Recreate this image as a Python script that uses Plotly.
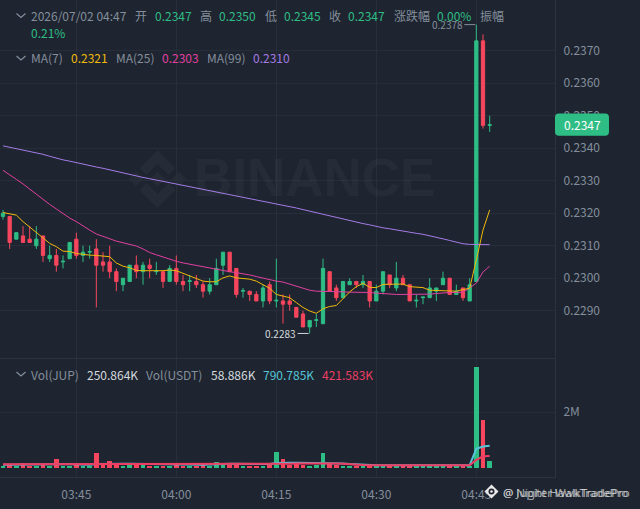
import pandas as pd
import plotly.graph_objects as go

# ---------- data (prices in 1e-4 units, moving averages in 1e-5 units) ----------
start_time = "2026-07-02 03:34"
direction = "grgrrgrgrggrggrrrrgg" "rgrgrgrrgrrgggrrgrrg" "rgrrrrgggrrggrgrggrg" "rrgggggrgrggrg"
body_top = [2320,2319,2314,2313,2312,2312,2313,2307,2307,2305.2,2311,2312,2308,2308.2,2309,2305,2305,2302,2300,2304,
            2304,2304,2304,2302.2,2302,2303,2303,2299,2299.2,2299,2298,2298,2303,2308,2308,2303,2296.2,2296,2295,2297,
            2298,2293.2,2293,2293,2291,2289,2287,2287.2,2303,2302,2297,2299,2299,2299,2299,2299,2296,2302,2301,2300,
            2300,2298,2293.2,2294.2,2297,2297,2300,2300,2296,2297,2298,2373,2373,2347.2]
body_bottom = [2319,2311,2312,2311,2311,2310,2307,2306,2304,2305,2306,2307,2307,2308,2304,2304,2302,2299,2298,2299,
               2302,2302,2303,2302,2299,2299,2299,2298,2299,2298,2296,2296,2298,2304,2302,2295,2296,2295,2293,2293,
               2293,2293,2292,2292,2288,2285,2285,2287,2286,2296,2294,2294,2298,2298,2298,2293,2293,2296,2298,2297,
               2298,2293,2293,2294,2294,2296,2298,2295,2295,2294,2293,2299,2347,2347]
high = [2321,2319,2314,2316,2316,2316,2313,2310,2309,2307,2311,2314,2310,2310,2312,2308,2310,2303,2300,2304,
        2307,2305,2306,2305,2302,2304,2307,2301,2301,2301,2299,2300,2306,2308,2308,2303,2297,2296,2296,2298,
        2299,2306,2295,2295,2291,2290,2287,2289,2306,2302,2298,2299,2300,2299,2301,2299,2298,2302,2301,2305,
        2301,2298,2295,2294.2,2300,2297,2302,2300,2298,2297,2300,2378,2375,2350]
low = [2318,2309,2312,2311,2311,2309,2305,2305,2302,2303,2306,2306,2305,2306,2291,2302,2300,2296,2296,2299,
       2300,2298,2300,2301,2297,2299,2298,2296,2296,2297,2294,2295,2298,2301,2302,2294,2294,2293,2293,2291,
       2292,2291,2286,2290,2288,2285,2283,2285,2286,2296,2293,2294,2298,2297,2297,2291,2293,2295,2297,2296,
       2298,2293,2291,2292,2294,2293,2298,2295,2295,2293,2293,2299,2346,2345]
ma7 = [23202,23197,23194,23174,23158,23141,23124,23107,23097,23083,23082,23076,23073,23071,23070,23068,23066,23047,23037,23032,
       23024,23023,23023,23022,23023,23025,23023,23015,23007,23001,22991,22989,22989,23001,23007,23001,22998,22997,22991,22981,
       22969,22950,22946,22940,22925,22910,22899,22892,22906,22913,22916,22938,22958,22974,22984,22972,22971,22981,22982,22982,
       22982,22974,22973,22971,22963,22962,22961,22960,22960,22965,22969,23056,23148,23210]
ma25 = [23332,23317,23304,23290,23274,23259,23243,23227,23213,23198,23185,23174,23160,23148,23136,23128,23121,23114,23109,23104,
        23099,23090,23079,23072,23065,23057,23052,23047,23043,23039,23034,23030,23026,23023,23020,23017,23014,23010,23005,23000,
        22996,22991,22988,22982,22976,22970,22963,22960,22960,22959,22958,22958,22957,22957,22957,22956,22954,22952,22951,22950,
        22950,22950,22950,22950,22951,22953,22955,22956,22956,22957,22970,22985,23019,23037]
ma99 = [23407,23403,23399,23395,23391,23387,23381,23375,23369,23364,23360,23355,23350,23346,23342,23338,23333,23328,23323,23319,
        23314,23310,23306,23302,23298,23294,23290,23285,23281,23277,23273,23269,23265,23261,23257,23253,23249,23245,23241,23238,
        23234,23230,23226,23221,23216,23211,23206,23201,23196,23191,23187,23182,23177,23173,23168,23164,23159,23155,23152,23148,
        23145,23142,23138,23135,23131,23126,23121,23116,23111,23106,23104,23104,23104,23103]
volume_k = [72,90,60,165,60,55,145,60,300,60,70,90,60,55,540,85,240,120,60,80,
            130,90,70,60,70,60,90,70,50,60,170,70,215,100,110,130,60,70,70,70,
            100,550,300,100,130,110,70,90,515,140,90,70,75,70,70,90,70,90,80,70,
            60,70,55,40,60,50,60,70,50,60,60,3600,1710,250.864]
vol_ma_fast_k = [110,110,105,105,100,100,105,110,125,130,125,120,110,105,130,140,150,150,145,140,
                 135,135,130,125,120,115,115,110,105,100,110,115,130,135,140,140,140,135,130,125,
                 130,165,180,180,180,175,175,170,180,175,170,150,130,115,100,95,90,90,90,85,
                 85,85,80,80,80,80,78,75,75,80,90,680,760,790.785]
vol_ma_slow_k = [120,120,120,120,120,120,120,122,125,128,128,128,128,128,130,132,132,132,132,132,
                 130,128,126,125,124,124,122,120,120,120,122,124,126,128,130,132,132,132,130,130,
                 130,135,140,145,150,155,158,158,158,158,155,140,120,105,95,90,88,88,86,86,
                 86,86,86,85,85,85,85,85,85,85,88,280,410,421.583]
price_ticks = [2290,2300,2310,2320,2330,2340,2350,2360,2370]

header_rows = [
    ("2026/07/02 04:47", 29, 16, "grey"), ("开", 133, 16, "grey"), ("0.2347", 153, 16, "up"),
    ("高", 198, 16, "grey"), ("0.2350", 217, 16, "up"), ("低", 263, 16, "grey"), ("0.2345", 282, 16, "up"),
    ("收", 327, 16, "grey"), ("0.2347", 346, 16, "up"), ("涨跌幅", 392, 16, "grey"), ("0.00%", 435, 16, "up"),
    ("振幅", 478, 16, "grey"), ("0.21%", 29, 32, "up"),
    ("MA(7)", 29, 58, "grey"), ("0.2321", 69, 58, "ma7"), ("MA(25)", 114, 58, "grey"), ("0.2303", 160, 58, "ma25"),
    ("MA(99)", 205, 58, "grey"), ("0.2310", 251, 58, "ma99"),
    ("Vol(JUP)", 29, 374, "grey"), ("250.864K", 85, 374, "white"), ("Vol(USDT)", 144, 374, "grey"),
    ("58.886K", 209, 374, "white"), ("790.785K", 261, 374, "volfast"), ("421.583K", 320, 374, "volslow"),
]

# ---------- styling ----------
W, H = 640, 509
BG = "#1e2530"
GRID = "#272e39"
SEP = "#2c333e"
UP = "#2ebd85"
DOWN = "#f6465d"
FONT = "Noto Sans CJK SC"
COL = {"grey": "#848e9c", "up": UP, "white": "#d5d9de", "ma7": "#f0b90b", "ma25": "#e040a0", "ma99": "#a67ae6",
       "volfast": "#56c4d8", "volslow": "#ee3d63"}
AXIS_X = 555
MAIN_BOTTOM = 358
VOL_BOTTOM = 476.7
PRICE_TOP, PRICE_BOTTOM = 0.238557, 0.227545
VOL_TOP, VOL_LOW = 3939, -323

fx = lambda x: x / W
fy = lambda y: 1 - y / H
price_y = lambda p: (PRICE_TOP - p) / (PRICE_TOP - PRICE_BOTTOM) * MAIN_BOTTOM


def poly(points, close=True, **kw):
    d = "M " + " L ".join(f"{fx(x):.5f},{fy(y):.5f}" for x, y in points) + (" Z" if close else "")
    return dict(type="path", xref="paper", yref="paper", path=d, **kw)


def rounded(x0, y0, x1, y1, r, **kw):
    p = lambda x, y: f"{fx(x):.5f},{fy(y):.5f}"
    d = (f"M {p(x0+r,y0)} L {p(x1-r,y0)} Q {p(x1,y0)} {p(x1,y0+r)} L {p(x1,y1-r)} Q {p(x1,y1)} {p(x1-r,y1)} "
         f"L {p(x0+r,y1)} Q {p(x0,y1)} {p(x0,y1-r)} L {p(x0,y0+r)} Q {p(x0,y0)} {p(x0+r,y0)} Z")
    return dict(type="path", xref="paper", yref="paper", path=d, **kw)


times = pd.date_range(start_time, periods=len(high), freq="min")
opens = [(b if d == "g" else t) / 1e4 for d, t, b in zip(direction, body_top, body_bottom)]
closes = [(t if d == "g" else b) / 1e4 for d, t, b in zip(direction, body_top, body_bottom)]
bar_colors = [UP if d == "g" else DOWN for d in direction]

fig = go.Figure()
fig.add_trace(go.Candlestick(
    x=times, open=opens, high=[v / 1e4 for v in high], low=[v / 1e4 for v in low], close=closes,
    xaxis="x2", yaxis="y", whiskerwidth=0,
    increasing=dict(line=dict(color=UP, width=1), fillcolor=UP),
    decreasing=dict(line=dict(color=DOWN, width=1), fillcolor=DOWN),
))
for vals, key in ((ma99, "ma99"), (ma25, "ma25"), (ma7, "ma7")):
    fig.add_trace(go.Scatter(x=times, y=[v / 1e5 for v in vals], xaxis="x2", yaxis="y", mode="lines",
                             line=dict(color=COL[key], width=1)))
fig.add_trace(go.Bar(x=times, y=volume_k, xaxis="x", yaxis="y2", marker=dict(color=bar_colors, line_width=0),
                     width=42000))
for vals, key in ((vol_ma_fast_k, "volfast"), (vol_ma_slow_k, "volslow")):
    fig.add_trace(go.Scatter(x=times, y=vals, xaxis="x", yaxis="y2", mode="lines",
                             line=dict(color=COL[key], width=2)))

# ---------- shapes ----------
shapes = []
for cy in (15.5, 58, 374):
    shapes.append(poly([(16.5, cy - 2), (21, cy + 2), (25.5, cy - 2)], close=False,
                       line=dict(color="#848e9c", width=1.2)))
# faint logo watermark
wm = "rgba(255,255,255,0.035)"
cx, cy = 157.5, 179
diamonds = [(0, 0, 7.5), (-21.5, 0, 7.5), (21.5, 0, 7.5)]
for dx, dy, r in diamonds:
    shapes.append(poly([(cx + dx, cy + dy - r), (cx + dx + r, cy + dy), (cx + dx, cy + dy + r), (cx + dx - r, cy + dy)],
                       fillcolor=wm, line_width=0, layer="below"))
for s in (1, -1):
    shapes.append(poly([(cx, cy - s * 29), (cx + 18, cy - s * 11), (cx + 11, cy - s * 4), (cx, cy - s * 15),
                        (cx - 11, cy - s * 4), (cx - 18, cy - s * 11)], fillcolor=wm, line_width=0, layer="below"))
# current-price badge
badge_y = price_y(closes[-1])
shapes.append(rounded(AXIS_X, badge_y - 11.3, 609, badge_y + 11, 4, fillcolor=UP, line_width=0, layer="above"))
# high / low connectors
k_hi = high.index(max(high))
k_lo = low.index(min(low))
for k, p, col in ((k_hi, max(high) / 1e4, "#848e9c"), (k_lo, min(low) / 1e4, "#d5d9de")):
    shapes.append(dict(type="line", xref="x2", yref="y", xsizemode="pixel", xanchor=times[k], x0=-12, x1=-1,
                       y0=p, y1=p, line=dict(color=col, width=1)))
# screenshot overlay icon
ix, iy = 491.5, 491.5
shapes.append(poly([(ix, iy - 7), (ix + 7, iy), (ix, iy + 7), (ix - 7, iy)], fillcolor="#e8e8e8", line_width=0))
shapes.append(dict(type="circle", xref="paper", yref="paper", x0=fx(ix - 3), x1=fx(ix + 3), y0=fy(iy + 3), y1=fy(iy - 3),
                   fillcolor=BG, line=dict(color=BG, width=0)))
shapes.append(dict(type="circle", xref="paper", yref="paper", x0=fx(ix - 1.3), x1=fx(ix + 1.3), y0=fy(iy + 1.3),
                   y1=fy(iy - 1.3), fillcolor="#e8e8e8", line_width=0))

# ---------- annotations ----------
ann = []
for text, x, y, key in header_rows:
    ann.append(dict(text=text, xref="paper", yref="paper", x=fx(x), y=fy(y), xanchor="left", yanchor="middle",
                    showarrow=False, font=dict(family=FONT, size=12, color=COL[key])))
ann.append(dict(text="<b>BINANCE</b>", xref="paper", yref="paper", x=fx(314), y=fy(177), xanchor="center",
                yanchor="middle", showarrow=False, font=dict(family="Liberation Sans", size=53, color=wm)))
ann.append(dict(text=f"{closes[-1]:.4f}", xref="paper", yref="paper", x=fx(582), y=fy(badge_y), xanchor="center",
                yanchor="middle", showarrow=False, font=dict(family=FONT, size=12, color="#ffffff")))
ann.append(dict(text=f"{max(high)/1e4:.4f}", xref="x2", yref="y", x=times[k_hi], y=max(high) / 1e4, xanchor="right",
                yanchor="middle", xshift=-11, showarrow=False, font=dict(family=FONT, size=10, color="#848e9c")))
ann.append(dict(text=f"{min(low)/1e4:.4f}", xref="x2", yref="y", x=times[k_lo], y=min(low) / 1e4, xanchor="right",
                yanchor="middle", xshift=-12, showarrow=False, font=dict(family=FONT, size=10, color="#d5d9de")))
for t in ("@ Night HawkTradePro", "@ Jupiter WalkTradePro"):
    ann.append(dict(text=t, xref="paper", yref="paper", x=fx(501), y=fy(492), xanchor="left", yanchor="middle",
                    showarrow=False, opacity=0.75, font=dict(family="Noto Sans", size=11.5, color="#d8d8d8")))

x_common = dict(type="date", domain=[0, AXIS_X / W], range=[times[0] - pd.Timedelta(seconds=27), times[0] + pd.Timedelta(seconds=4968)],
                dtick=900000, tick0="2026-07-02 03:45", tickformat="%H:%M", showgrid=True, gridcolor=GRID, gridwidth=1,
                zeroline=False, rangeslider=dict(visible=False))
fig.update_layout(
    width=W, height=H, autosize=False, margin=dict(l=0, r=0, t=0, b=0), paper_bgcolor=BG, plot_bgcolor=BG,
    showlegend=False, hovermode=False, bargap=0, font=dict(family=FONT, size=12, color="#848e9c"),
    xaxis=dict(**x_common, anchor="y2", showline=True, linecolor=SEP, ticks="outside", ticklen=7, tickcolor=BG,
               tickfont=dict(family=FONT, size=12, color="#848e9c")),
    xaxis2=dict(**x_common, anchor="y", matches="x", showline=True, linecolor=SEP, showticklabels=False, ticks=""),
    yaxis=dict(domain=[fy(MAIN_BOTTOM), 1], range=[PRICE_BOTTOM, PRICE_TOP], side="right", anchor="x2",
               tickvals=[v / 1e4 for v in price_ticks], ticktext=[f"{v/1e4:.4f}" for v in price_ticks],
               showgrid=True, gridcolor=GRID, zeroline=False, showline=True, linecolor=SEP,
               ticks="outside", ticklen=5, tickcolor=BG, tickfont=dict(family=FONT, size=12, color="#848e9c")),
    yaxis2=dict(domain=[fy(VOL_BOTTOM), fy(MAIN_BOTTOM)], range=[VOL_LOW, VOL_TOP], side="right", anchor="x",
                tickvals=[2000], ticktext=["2M"], showgrid=True, gridcolor=GRID, zeroline=False, showline=True,
                linecolor=SEP, ticks="outside", ticklen=5, tickcolor=BG, tickfont=dict(family=FONT, size=12, color="#848e9c")),
    shapes=shapes, annotations=ann,
)
fig.write_html("out.html", config=dict(displayModeBar=False),
               post_script="document.body.style.margin='0';document.body.style.overflow='hidden';document.body.style.background='%s';" % BG)
